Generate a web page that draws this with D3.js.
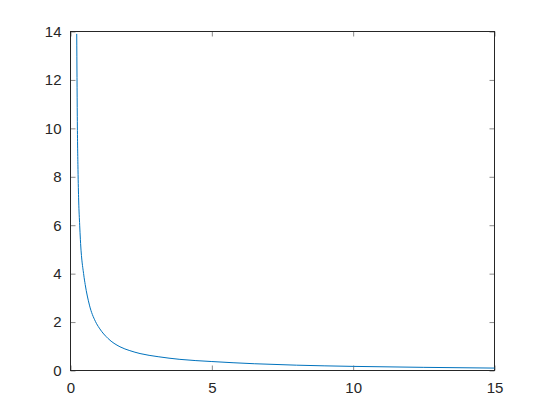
<!DOCTYPE html>
<meta charset="utf-8">
<style>
body, html {
  padding: 0;
  margin: 0;
  background: #fff;
}
.ticks text {
  font: 15px "Liberation Sans", Arial, sans-serif;
  fill: #262626;
}
</style>
<body>
<script src="https://d3js.org/d3.v7.min.js"></script>
<script>

var width = 546,
    height = 416,
    plotLeft = 70.5,
    plotRight = 494.5,
    plotTop = 31.5,
    plotBottom = 370.5

// values
var xs = [0.22, 0.23, 0.24, 0.265, 0.29, 0.325, 0.35, 0.47, 0.52, 0.67, 0.88, 1.02, 1.33, 1.75, 2.1, 2.46, 3.1, 3.87, 5, 6.5, 8, 10, 12.5, 15]
var ys = [13.9, 12.1, 10.5, 8.3, 7, 6, 5.4, 3.94, 3.55, 2.7, 2.03, 1.75, 1.32, 0.98, 0.82, 0.70, 0.57, 0.46, 0.37, 0.28, 0.22, 0.17, 0.13, 0.1]
var xTicks = [0, 5, 10, 15]
var yTicks = [0, 2, 4, 6, 8, 10, 12, 14]

var x = d3.scaleLinear().domain([0, 15]).range([plotLeft, plotRight])
var y = d3.scaleLinear().domain([0, 14]).range([plotBottom, plotTop])

var svg = d3.select("body").append("svg")
    .attr("width", width)
    .attr("height", height)
    .style("display", "block")

var tickLen = 5

// inward ticks on all four sides
svg.append("g")
    .attr("class", "ticks")
    .attr("transform", "translate(0," + plotBottom + ")")
    .call(d3.axisBottom(x).tickValues(xTicks).tickSize(-tickLen).tickPadding(12).tickFormat(d3.format("d")))
    .call(function (g) { g.select(".domain").remove() })

svg.append("g")
    .attr("class", "ticks")
    .attr("transform", "translate(" + plotLeft + ",0)")
    .call(d3.axisLeft(y).tickValues(yTicks).tickSize(-tickLen).tickPadding(9).tickFormat(d3.format("d")))
    .call(function (g) { g.select(".domain").remove() })

svg.append("g")
    .attr("transform", "translate(0," + plotTop + ")")
    .call(d3.axisTop(x).tickValues(xTicks).tickSize(-tickLen).tickFormat(""))
    .call(function (g) { g.select(".domain").remove() })

svg.append("g")
    .attr("transform", "translate(" + plotRight + ",0)")
    .call(d3.axisRight(y).tickValues(yTicks).tickSize(-tickLen).tickFormat(""))
    .call(function (g) { g.select(".domain").remove() })

svg.selectAll(".tick line")
    .attr("stroke", "#8a8a8a")

svg.append("rect")
    .attr("x", plotLeft)
    .attr("y", plotTop)
    .attr("width", plotRight - plotLeft)
    .attr("height", plotBottom - plotTop)
    .attr("fill", "none")
    .attr("stroke", "#262626")
    .attr("stroke-width", 1)

var line = d3.line()
    .x(function (d) { return x(d[0]) })
    .y(function (d) { return y(d[1]) })
    .curve(d3.curveMonotoneX)

svg.append("path")
    .datum(d3.zip(xs, ys))
    .attr("fill", "none")
    .attr("stroke", "#0072bd")
    .attr("stroke-width", 1)
    .attr("d", line)

</script>
</body>
